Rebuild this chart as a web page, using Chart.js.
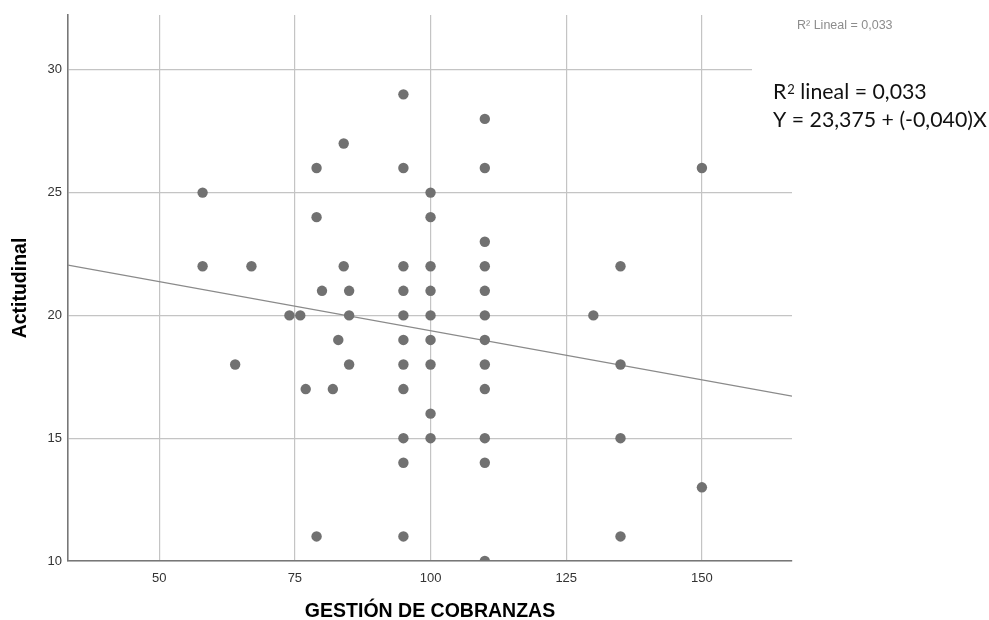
<!DOCTYPE html>
<html>
<head>
<meta charset="utf-8">
<script src="https://cdn.jsdelivr.net/npm/chart.js@4"></script>
<style>
  html, body { margin: 0; padding: 0; background: #fff; }
  #wrap { width: 989px; height: 620px; }
</style>
</head>
<body>
<div id="wrap"><canvas id="disp"></canvas></div>
<script>
// gestión de cobranzas (x) vs actitudinal (y)
var gestion = [58, 58, 67, 64, 74, 76, 77, 79, 79, 79, 80, 82, 83, 84, 84, 85, 85, 85,
  95, 95, 95, 95, 95, 95, 95, 95, 95, 95, 95,
  100, 100, 100, 100, 100, 100, 100, 100, 100,
  110, 110, 110, 110, 110, 110, 110, 110, 110, 110, 110, 110,
  130, 135, 135, 135, 135, 150, 150];
var actitudinal = [25, 22, 22, 18, 20, 20, 17, 26, 24, 11, 21, 17, 19, 27, 22, 21, 20, 18,
  29, 26, 22, 21, 20, 19, 18, 17, 15, 14, 11,
  25, 24, 22, 21, 20, 19, 18, 16, 15,
  28, 26, 23, 22, 21, 20, 19, 18, 17, 15, 14, 10,
  20, 22, 18, 15, 11, 26, 13];

var xTicks = [50, 75, 100, 125, 150];
var yTicks = [10, 15, 20, 25, 30];
var xMin = 33.2, xMax = 166.6;
var yMin = 10, yMax = 32.23;

// recta de ajuste lineal
var intercepto = 23.375;
var pendiente = -0.040;
var r2 = '0,033';

var puntos = gestion.map(function (g, i) { return { x: g, y: actitudinal[i] }; });
var recta = [xMin, xMax].map(function (x) { return { x: x, y: intercepto + pendiente * x }; });

var sans = 'Arial, "Liberation Sans", sans-serif';

Chart.register({
  id: 'notas',
  afterDraw: function (chart) {
    var ctx = chart.ctx;
    ctx.save();
    // caja blanca del texto de la ecuación
    ctx.fillStyle = '#fff';
    ctx.fillRect(752, 55, 237, 85);

    ctx.fillStyle = '#8c8c8c';
    ctx.font = '12.5px ' + sans;
    ctx.textAlign = 'left';
    ctx.textBaseline = 'middle';
    ctx.fillText('R\u00b2 Lineal = ' + r2, 797, 26);

    ctx.fillStyle = '#111';
    ctx.textBaseline = 'alphabetic';
    var f = 'Lato, "Open Sans", sans-serif';
    ctx.font = '21.3px ' + f;
    ctx.fillText('R', 773, 99);
    var w = ctx.measureText('R').width;
    ctx.font = '13px ' + f;
    ctx.fillText('2', 773 + w + 1, 94);
    var w2 = ctx.measureText('2').width;
    ctx.font = '21.3px ' + f;
    ctx.fillText(' lineal = ' + r2, 773 + w + 1 + w2, 99);
    ctx.fillText('Y = ' + intercepto.toFixed(3).replace('.', ',') +
      ' + (' + pendiente.toFixed(3).replace('.', ',') + ')X', 773, 127);
    ctx.restore();
  }
});

new Chart(document.getElementById('disp'), {
  type: 'scatter',
  data: {
    datasets: [
      {
        data: puntos,
        pointRadius: 5.2,
        pointHoverRadius: 5.2,
        pointBackgroundColor: '#717171',
        pointBorderWidth: 0,
        order: 1
      },
      {
        type: 'line',
        data: recta,
        borderColor: '#8a8a8a',
        borderWidth: 1.2,
        pointRadius: 0,
        fill: false,
        order: 2
      }
    ]
  },
  options: {
    responsive: true,
    maintainAspectRatio: false,
    animation: false,
    events: [],
    layout: { padding: { top: 15, right: 197, left: 0, bottom: 0 } },
    plugins: { legend: { display: false }, tooltip: { enabled: false } },
    scales: {
      x: {
        type: 'linear',
        min: xMin,
        max: xMax,
        afterBuildTicks: function (s) { s.ticks = xTicks.map(function (v) { return { value: v }; }); },
        afterFit: function (s) { s.height = 59; },
        grid: { color: '#c4c4c4', lineWidth: 1.2, drawTicks: false },
        border: { color: '#777', width: 1.6 },
        ticks: { padding: 9.5, color: '#333', font: { family: sans, size: 13 } },
        title: {
          display: true,
          text: 'GESTIÓN DE COBRANZAS',
          color: '#000',
          padding: { top: 0, bottom: -1 },
          font: { family: sans, size: 19.5, weight: 'bold', lineHeight: 1 }
        }
      },
      y: {
        min: yMin,
        max: yMax,
        afterBuildTicks: function (s) { s.ticks = yTicks.map(function (v) { return { value: v }; }); },
        afterFit: function (s) { s.width = 68; },
        grid: { color: '#c4c4c4', lineWidth: 1.2, drawTicks: false },
        border: { color: '#777', width: 1.6 },
        ticks: { padding: 6, color: '#333', font: { family: sans, size: 13 } },
        title: {
          display: true,
          text: 'Actitudinal',
          color: '#000',
          padding: { top: 11, bottom: 0 },
          font: { family: sans, size: 19.5, weight: 'bold', lineHeight: 1 }
        }
      }
    }
  }
});
</script>
</body>
</html>
